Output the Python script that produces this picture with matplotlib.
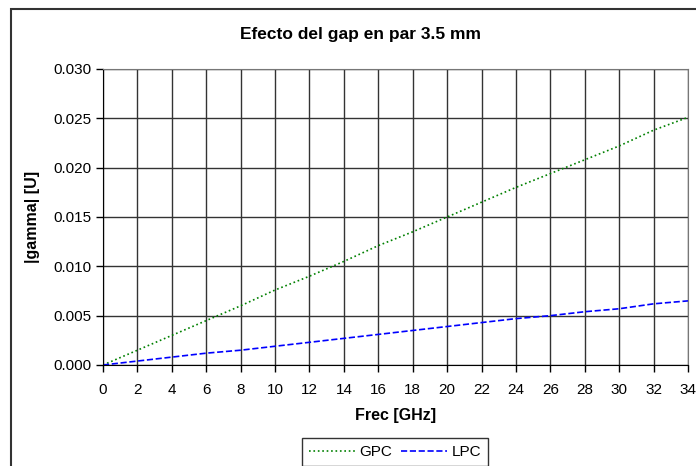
import numpy as np
import matplotlib.pyplot as plt
from matplotlib.patches import Rectangle

plt.rcParams['font.family'] = ['Liberation Sans', 'DejaVu Sans']

# datos
frec = [0, 2, 4, 6, 8, 10, 12, 14, 16, 18, 20, 22, 24, 26, 28, 30, 32, 34]
gpc = [0.0, 0.0015, 0.0030, 0.0045, 0.0060, 0.0076, 0.0090, 0.0105, 0.0121,
       0.0135, 0.0150, 0.0165, 0.0180, 0.0194, 0.0208, 0.0222, 0.0238, 0.0251]
lpc = [0.0, 0.0004, 0.0008, 0.0012, 0.0015, 0.0019, 0.0023, 0.0027, 0.0031,
       0.0035, 0.0039, 0.0043, 0.0047, 0.0050, 0.0054, 0.0057, 0.0062, 0.0065]
xticks = np.arange(0, 35, 2)
yticks = [0.0, 0.005, 0.010, 0.015, 0.020, 0.025, 0.030]

W, H = 696, 466
fig = plt.figure(figsize=(W / 100, H / 100), dpi=100)
ax = fig.add_axes([103 / W, 1 - 365 / H, (688 - 103) / W, (365 - 69) / H])

ax.plot(frec, gpc, color='#008000', linestyle=':', linewidth=1.2, label='GPC')
ax.plot(frec, lpc, color='#0000ff', linestyle='--', linewidth=1.2, label='LPC')

ax.set_xlim(0, 34)
ax.set_ylim(0, 0.030)
ax.set_xticks(xticks)
ax.set_yticks(yticks)
ax.set_yticklabels([f'{v:.3f}' for v in yticks])
ax.tick_params(direction='out', length=5, width=1, labelsize=11, color='black', pad=3)
ax.tick_params(axis='x', pad=8)
ax.grid(True, color='#333333', linewidth=1)
ax.set_axisbelow(True)
for s in ['top', 'right']:
    ax.spines[s].set_color('#777777')
for s in ['left', 'bottom']:
    ax.spines[s].set_color('black')

ax.set_xlabel('Frec [GHz]', fontsize=11.5, fontweight='bold', labelpad=8)
ax.set_ylabel('|gamma| [U]', fontsize=11.5, fontweight='bold', labelpad=10)

fig.text(361 / W, 1 - 35 / H, 'Efecto del gap en par 3.5 mm', ha='center', va='center',
         fontsize=12.5, fontweight='bold')

# marco exterior del grafico
fig.patches.append(Rectangle((11 / W, -0.1), 1.2, 1 - 9 / H + 0.1, transform=fig.transFigure,
                             fill=False, edgecolor='#333333', linewidth=1.5))

leg = fig.legend(loc='upper center', bbox_to_anchor=(395 / W, 1 - 438 / H), ncol=2,
                 fontsize=11, frameon=True, fancybox=False, edgecolor='black',
                 handlelength=3, columnspacing=0.6, handletextpad=0.3,
                 borderpad=0.45, borderaxespad=0)
leg.get_frame().set_linewidth(1)

fig.savefig('out.png', dpi=100)
